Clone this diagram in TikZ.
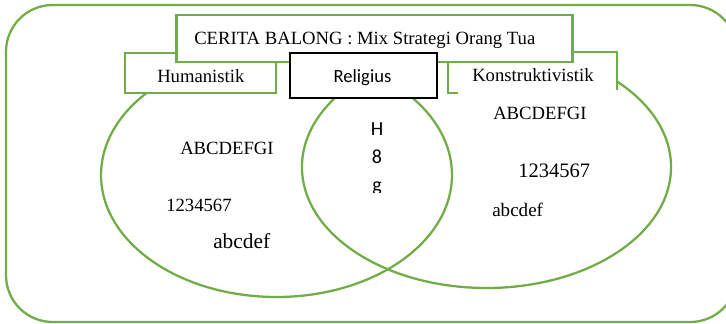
\documentclass[tikz,border=0pt]{standalone}
\usepackage{fontspec}
\setmainfont{Liberation Serif}
\newfontfamily\calibri{Carlito}
\definecolor{vgreen}{HTML}{70AD47}
\begin{document}
\begin{tikzpicture}[x=0.75pt,y=-0.75pt,
  gline/.style={draw=vgreen, line width=1.7pt},
  gbox/.style={gline, fill=white, inner sep=0pt},
  txt/.style={anchor=base west, inner sep=0pt, font=\fontsize{14}{16}\selectfont},
  stxt/.style={anchor=base, inner sep=0pt, font=\calibri\fontsize{15}{18}\selectfont}]
\clip (0,0) rectangle (726,324);
% frame
\draw [gline, rounded corners=35pt] (6,5) rectangle (737,322);
% ellipses
\draw [gline] (276.5,175) ellipse [x radius=131.6pt, y radius=91.5pt];
\draw [gline] (486.5,167) ellipse [x radius=138.4pt, y radius=90.75pt];
% boxes
\fill [white] (448,52) rectangle (617,93);
\draw [gline] (458,93) -- (448,93) -- (448,52) -- (617,52) -- (617,90);
\node [gbox, minimum width=113.25pt, minimum height=30pt] (humbox) at (200.5,73) {};
\node [gbox, minimum width=297pt, minimum height=35.25pt] (titlebox) at (374.5,38.5) {};
\node [draw=black, fill=white, line width=1.2pt, minimum width=110.25pt, minimum height=33.75pt] (relbox) at (363.5,75.5) {};
% labels
\node [txt] (title) at (194,45) {CERITA BALONG : Mix Strategi Orang Tua};
\node [txt] (hum) at (157,82.7) {Humanistik};
\node [txt] (kon) at (472,81.7) {Konstruktivistik};
\node [stxt, font=\calibri\fontsize{14}{16}\selectfont] (rel) at (362.5,83) {Religius};
% left
\node [txt] (habc) at (180,155) {ABCDEFGI};
\node [txt] (hnum) at (166,212) {1234567};
\node [txt, font=\fontsize{16}{18}\selectfont] (hlow) at (213,249) {abcdef};
% right
\node [txt] (kabc) at (493,120) {ABCDEFGI};
\node [txt, font=\fontsize{15.4}{18}\selectfont] (knum) at (518,178) {1234567};
\node [txt, font=\fontsize{14.3}{16}\selectfont] (klow) at (492,217) {abcdef};
% middle
\node [stxt] (mh) at (377,136) {H};
\node [stxt] (m8) at (377,163.3) {8};
\begin{scope}
\clip (360,170) rectangle (400,192.5);
\node [stxt] (mg) at (377,191.7) {g};
\end{scope}
\end{tikzpicture}
\end{document}
